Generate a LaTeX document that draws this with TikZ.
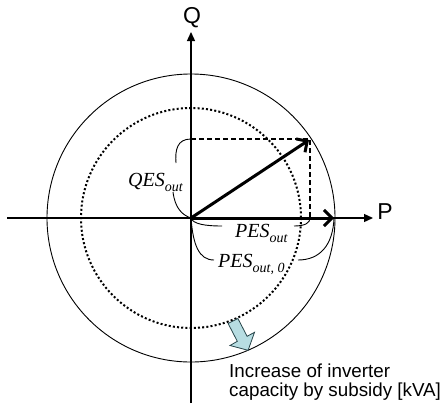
\documentclass[tikz,border=0pt]{standalone}
\usepackage{fontspec}
\setmainfont{Liberation Sans}
\newfontfamily\tms{Liberation Serif}
\usetikzlibrary{arrows.meta}
\definecolor{arrowblue}{RGB}{183,221,226}
\definecolor{arrowedge}{RGB}{40,70,75}
\newcommand{\lab}[2]{#1\raisebox{-5pt}{\fontsize{14}{16}\selectfont #2}}
\begin{document}
\begin{tikzpicture}[x=1pt,y=-1pt,
  axis/.style={line width=1.3pt,-{Triangle[length=9pt,width=8pt]}},
  vec/.style={line width=3pt,-{Straight Barb[length=8pt,width=16pt]}},
  brace/.style={line width=0.9pt},
  dotcirc/.style={line width=2pt,dash pattern=on 2pt off 2.2pt},
  mlabel/.style={inner sep=0pt,anchor=base west,font=\tms\itshape\fontsize{20}{24}\selectfont},
  axlabel/.style={inner sep=0pt,font=\fontsize{23}{27}\selectfont}]
\useasboundingbox (0,0) rectangle (446,407);
\coordinate (O) at (191,218);
\coordinate (Qtop) at (191,32);
\coordinate (Qbot) at (191,403);
\coordinate (Pleft) at (7,218);
\coordinate (Pright) at (373,218);
\coordinate (V) at (309,140);
\coordinate (C) at (310,139);
\coordinate (Dq) at (191,139);
\coordinate (Dp) at (310,218);
\coordinate (Ptip) at (334,218);
% circles
\draw[line width=0.9pt] (O) circle[radius=144];
\draw[dotcirc] (O) circle[radius=110];
% axes
\draw[axis] (Qbot) -- (Qtop);
\draw[axis] (Pleft) -- (Pright);
\node[axlabel] (Q) at (192,18) {Q};
\node[axlabel] (P) at (385,212) {P};
% dashed projections
\draw[line width=1.2pt,dashed,dash pattern=on 5pt off 3pt] (Dq) -- (C) -- (Dp);
% vectors
\draw[vec] (O) -- (V);
\draw[vec] (O) -- (Ptip);
% QES brace
\draw[brace] (Dq) .. controls (177,139) and (175,150) .. (176,163);
\draw[brace] (173,192) .. controls (175,208) and (182,215) .. (O);
\node[mlabel] (qes) at (128,186) {\lab{QES}{out}};
% PES_out brace
\draw[brace] (O) .. controls (193,224) and (205,226) .. (222,226);
\draw[brace] (294,226) .. controls (305,226) and (310,223) .. (Dp);
\node[mlabel] (pes) at (235,237) {\lab{PES}{out}};
% PES_out,0 brace
\draw[brace] (O) .. controls (193,245) and (199,260) .. (214,260);
\draw[brace] (298,260) .. controls (320,260) and (333,245) .. (Ptip);
\node[mlabel] (pes0) at (218,267) {\lab{PES}{out, 0}};
% block arrow
\draw[fill=arrowblue,draw=arrowedge,line width=0.8pt,line join=miter]
  (237.9,318.5) -- (247.1,336.3) -- (254.5,332.3) -- (248.1,350.3)
  -- (230.0,345.5) -- (237.3,341.3) -- (228.1,323.5) -- cycle;
% text
\node[inner sep=0pt,anchor=north west,align=left,font=\fontsize{18.8}{19}\selectfont] (txt) at (229,364)
  {Increase of inverter\\capacity by subsidy [kVA]};
\end{tikzpicture}
\end{document}
